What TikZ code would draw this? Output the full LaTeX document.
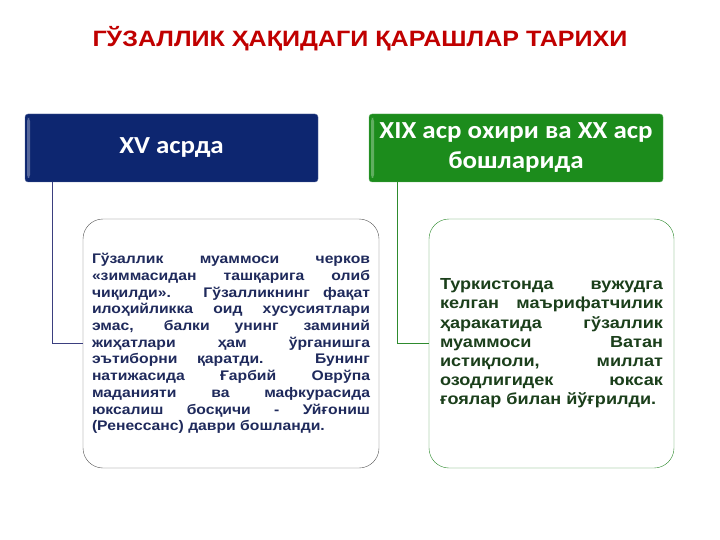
\documentclass[tikz,border=0pt]{standalone}
\usepackage{fontspec}
\setmainfont[FakeStretch=1.13]{Liberation Sans}
\newfontfamily\headfont[FakeStretch=1.1]{Carlito}
\usepackage{tikz}
\usetikzlibrary{positioning,arrows}

\definecolor{titlered}{HTML}{C00000}
\definecolor{headblue}{HTML}{0D2670}
\definecolor{headgreen}{HTML}{1C8C1C}
\definecolor{textblue}{HTML}{1F2A5C}
\definecolor{textgreen}{HTML}{1B3F1B}
\definecolor{lineblue}{HTML}{3B3F7F}
\definecolor{linegreen}{HTML}{2E8B2E}

\newcommand\looselines{\tolerance=10000 \hyphenpenalty=10000 }

\tikzset{
  header/.style={rectangle, rounded corners=3pt, minimum height=68pt, inner sep=0pt,
    text=white, align=center, font=\headfont\bfseries\fontsize{24.5}{30}\selectfont,
    path picture={\fill[white, opacity=0.3]
      ([xshift=2pt, yshift=-4pt]path picture bounding box.north west) rectangle
      ([xshift=5pt, yshift=4pt]path picture bounding box.south west);}},
  textbox/.style={rectangle, rounded corners=20pt, fill=white, minimum height=249pt,
    align=justify},
  link/.style={line width=1.3pt}
}

\begin{document}
\begin{tikzpicture}[x=1pt,y=-1pt]
\useasboundingbox (0,0) rectangle (720,540);

\node[text=titlered, font=\bfseries\fontsize{22.2}{26}\selectfont] (title) at (360,39)
  {ГЎЗАЛЛИК ҲАҚИДАГИ ҚАРАШЛАР ТАРИХИ};

\node[header, fill=headblue, draw=headblue!70!white, minimum width=293pt] (xv) at (171.5,148) {XV асрда};
\node[header, fill=headgreen, draw=headgreen!70!white, minimum width=294pt] (xix) at (516,148)
  {XIX аср охири ва XX аср\\бошларида};

\node[textbox, draw=black!65, text=textblue, minimum width=296pt, text width=278pt, inner xsep=9pt,
  font=\bfseries\fontsize{13.9}{16.7}\selectfont\looselines]
  (xvtext) at (231,343.5) {Гўзаллик муаммоси черков\linebreak
  «зиммасидан ташқарига олиб\linebreak
  чиқилди». Гўзалликнинг фақат\linebreak
  илоҳийликка оид хусусиятлари\linebreak
  эмас, балки унинг заминий\linebreak
  жиҳатлари ҳам ўрганишга\linebreak
  эътиборни қаратди. Бунинг\linebreak
  натижасида Ғарбий Оврўпа\linebreak
  маданияти ва мафкурасида\linebreak
  юксалиш босқичи - Уйғониш\linebreak
  (Ренессанс) даври бошланди.};

\node[textbox, draw=linegreen, text=textgreen, minimum width=245pt, text width=223pt, inner xsep=11pt,
  font=\bfseries\fontsize{16}{19.2}\selectfont\looselines]
  (xixtext) at (551.5,343.5) {Туркистонда вужудга\linebreak
  келган маърифатчилик\linebreak
  ҳаракатида гўзаллик\linebreak
  муаммоси Ватан\linebreak
  истиқлоли, миллат\linebreak
  озодлигидек юксак\linebreak
  ғоялар билан йўғрилди.};

\draw[link, lineblue] ([xshift=28pt]xv.south west) |- (xvtext.west);
\draw[link, linegreen] ([xshift=29pt]xix.south west) |- (xixtext.west);

\end{tikzpicture}
\end{document}
